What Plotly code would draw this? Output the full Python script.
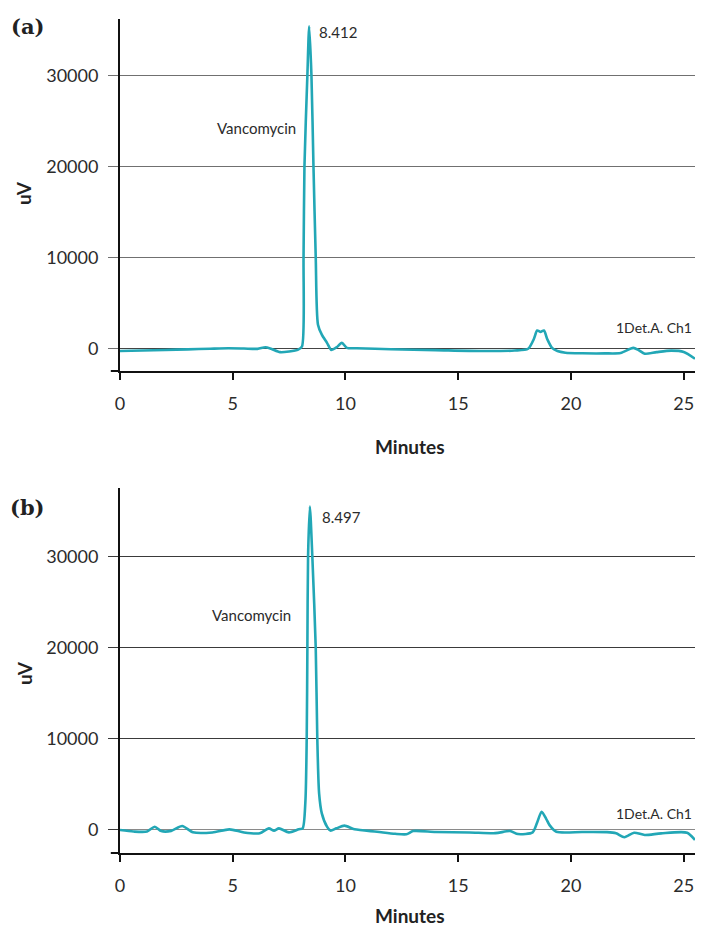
import plotly.graph_objects as go

# ---- data ----
a_time = [0.0, 1.0, 2.0, 3.0, 4.0, 4.8, 5.5, 6.1, 6.45, 6.7, 7.1, 7.5, 7.9, 8.07,
          8.14, 8.18, 8.31, 8.39, 8.49, 8.58, 8.68, 8.78, 8.95, 9.18, 9.37, 9.6,
          9.84, 10.06, 10.5, 12.0, 14.0, 16.0, 17.5, 18.1, 18.35, 18.5, 18.65,
          18.8, 18.95, 19.16, 19.4, 19.75, 20.5, 21.5, 22.2, 22.76, 23.0, 23.27,
          23.8, 24.45, 25.0, 25.5]
a_signal = [-300, -250, -180, -120, -50, 0, -30, -60, 120, -50, -420, -350, -150, 200,
            10000, 20000, 30000, 35400, 30000, 20000, 10000, 2600, 1500, 600, -180, 100,
            600, 50, 0, -100, -200, -300, -250, -50, 1000, 1950, 1800,
            1950, 1000, 50, -300, -480, -550, -560, -520, 50, -200, -600,
            -420, -260, -400, -1150]

b_time = [0.0, 0.6, 1.2, 1.54, 1.83, 2.27, 2.76, 3.23, 4.1, 4.85, 5.5, 6.2, 6.6, 6.83,
          7.05, 7.49, 7.93, 8.1, 8.22, 8.28, 8.31, 8.34, 8.42, 8.53, 8.68, 8.75, 8.83,
          8.95, 9.18, 9.33, 9.6, 9.95, 10.4, 11.4, 12.2, 12.7, 13.0, 14.0, 15.5,
          16.65, 17.3, 17.65, 18.3, 18.5, 18.7, 18.9, 19.05, 19.35, 20.5, 21.6, 22.0,
          22.37, 22.8, 23.27, 24.0, 25.15, 25.5]
b_signal = [-30, -200, -200, 330, -150, -130, 400, -280, -300, 40, -300, -400, 150, -100,
            150, -290, 50, 150, 3000, 10000, 20000, 30000, 35500, 30000, 20000, 10000, 4000,
            1800, 330, -100, 150, 450, 50, -220, -450, -500, -150, -250, -300,
            -380, -150, -480, -290, 800, 1980, 1200, 500, -220, -250, -270, -400,
            -830, -330, -580, -400, -330, -1130]

x_ticks = [0, 5, 10, 15, 20, 25]
y_ticks = [0, 10000, 20000, 30000]
y_tick_text = ["0", "10000", "20000", "30000"]
peak_a = "8.412"
peak_b = "8.497"
compound = "Vancomycin"
channel = "1Det.A. Ch1"

LINE = "#22A7B6"
FONT = "Lato"
TXT = "#2b2b2b"

# the page adds an 8px body margin; keep the figure inside the visible window
OFF = 8
W = 704 - 2 * OFF
H = 937.0 - 2 * OFF
LEFT = 120          # page x of the y axis
PW = 575.0          # plot width in px

fig = go.Figure()
fig.add_trace(go.Scatter(x=a_time, y=a_signal, mode="lines", xaxis="x", yaxis="y",
                         line=dict(color=LINE, width=2.6, shape="spline", smoothing=0.7),
                         showlegend=False, hoverinfo="skip"))
fig.add_trace(go.Scatter(x=b_time, y=b_signal, mode="lines", xaxis="x2", yaxis="y2",
                         line=dict(color=LINE, width=2.6, shape="spline", smoothing=0.7),
                         showlegend=False, hoverinfo="skip"))

def xax(anchor):
    return dict(anchor=anchor, domain=[0, 1], range=[0, 25.5], tickvals=x_ticks,
                showline=True, linecolor="#111", linewidth=2, ticks="outside",
                ticklen=7, tickwidth=2, tickcolor="#111", showgrid=False, zeroline=False,
                tickfont=dict(family=FONT, size=18, color=TXT), ticklabelstandoff=8)

def yax(anchor, dom, rng, grid, zero):
    return dict(anchor=anchor, domain=dom, range=rng, tickvals=y_ticks, ticktext=y_tick_text,
                showline=True, linecolor="#111", linewidth=2, ticks="outside",
                ticklen=10, tickwidth=1.3, tickcolor=grid, showgrid=True,
                gridcolor=grid, gridwidth=1.3, zeroline=True, zerolinecolor=zero,
                zerolinewidth=1.3, tickfont=dict(family=FONT, size=18, color=TXT),
                ticklabelstandoff=6)

def ydom(top_px, bot_px):
    return [1 - (bot_px - OFF) / H, 1 - (top_px - OFF) / H]

R = W - (LEFT - OFF) - PW

fig.update_layout(
    width=W, height=int(H),
    margin=dict(l=LEFT - OFF, r=R, t=0, b=0),
    paper_bgcolor="white", plot_bgcolor="white",
    xaxis=xax("y"),
    yaxis=yax("x", ydom(19, 371), [-2495, 36190], "#707070", "#444"),
    xaxis2=xax("y2"),
    yaxis2=yax("x2", ydom(488, 853), [-2560, 37550], "#3a3a3a", "#8a8a8a"),
)

# left extension of the bottom axis lines
for xr, yr in (("x domain", "y domain"), ("x2 domain", "y2 domain")):
    fig.add_shape(type="line", xref=xr, yref=yr, x0=-0.016, x1=0, y0=0, y1=0,
                  line=dict(color="#111", width=2))

ann = []
for xr, yr, pk, vy, py, cy in (("x", "y", peak_a, 24210, 34760, 2240),
                               ("x2", "y2", peak_b, 23590, 34360, 1835)):
    vx = 6.07 if xr == "x" else 5.85
    px = 8.75 if xr == "x" else 8.88
    ann.append(dict(x=vx, y=vy, xref=xr, yref=yr, text=compound, showarrow=False,
                    xanchor="center", yanchor="middle",
                    font=dict(family=FONT, size=15, color=TXT)))
    ann.append(dict(x=px, y=py, xref=xr, yref=yr, text=pk, showarrow=False,
                    xanchor="left", yanchor="middle",
                    font=dict(family=FONT, size=15, color=TXT)))
    ann.append(dict(x=25.45, y=cy, xref=xr, yref=yr, text=channel, showarrow=False,
                    xanchor="right", yanchor="middle",
                    font=dict(family=FONT, size=14, color=TXT)))

def px_x(p):
    return (p - LEFT) / PW

def px_y(p):
    return 1 - (p - OFF) / H

for label, ly, uy, my in (("(a)", 26, 193, 446), ("(b)", 507, 673, 915)):
    ann.append(dict(x=px_x(27), y=px_y(ly), xref="paper", yref="paper", text="<b>%s</b>" % label,
                    showarrow=False, xanchor="center", yanchor="middle",
                    font=dict(family="DejaVu Serif", size=21, color="#222")))
    ann.append(dict(x=px_x(24), y=px_y(uy), xref="paper", yref="paper", text="<b>uV</b>",
                    showarrow=False, xanchor="center", yanchor="middle", textangle=-90,
                    font=dict(family=FONT, size=19, color="#222")))
    ann.append(dict(x=px_x(410), y=px_y(my), xref="paper", yref="paper", text="<b>Minutes</b>",
                    showarrow=False, xanchor="center", yanchor="middle",
                    font=dict(family=FONT, size=19, color="#222")))

fig.update_layout(annotations=ann)
fig.write_html("out.html")
